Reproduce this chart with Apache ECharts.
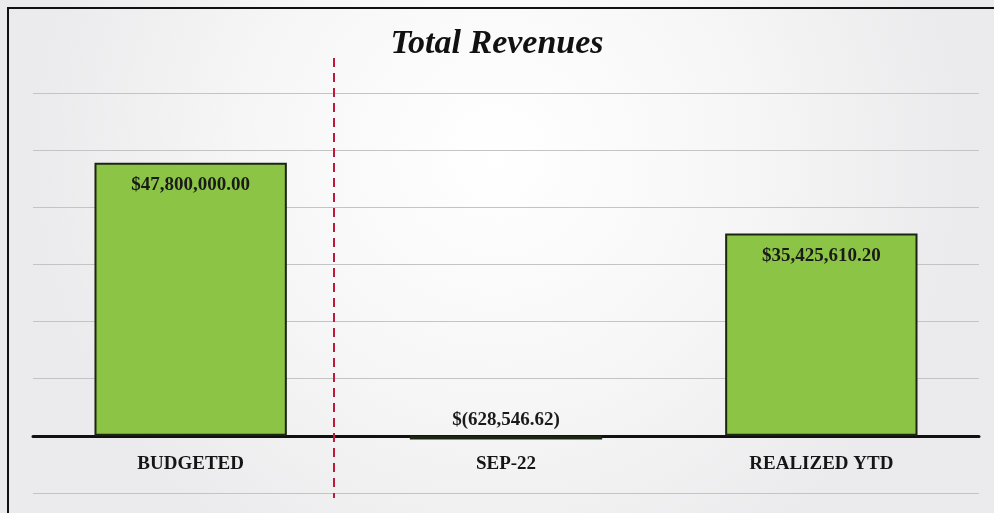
<!DOCTYPE html>
<html>
<head>
<meta charset="utf-8">
<script src="https://cdn.jsdelivr.net/npm/echarts@6/dist/echarts.min.js"></script>
<style>
  html, body { margin: 0; padding: 0; }
  #chart { width: 994px; height: 513px; }
</style>
</head>
<body>
<div id="chart"></div>
<script>
// total revenues chart

const categories = ['BUDGETED', 'SEP-22', 'REALIZED YTD'];
const revenues = [47800000.00, -628546.62, 35425610.20];

const money = v => {
	const s = Math.abs(v).toLocaleString('en-US', { minimumFractionDigits: 2, maximumFractionDigits: 2 });
	return v < 0 ? '$(' + s + ')' : '$' + s;
};

const chart = echarts.init(document.getElementById('chart'));

const serif = '"Liberation Serif", "DejaVu Serif", serif';

const option = {
	backgroundColor: {
		type: 'radial', x: 0.5, y: 0.3, r: 0.9,
		colorStops: [
			{ offset: 0, color: '#ffffff' },
			{ offset: 0.5, color: '#f7f7f7' },
			{ offset: 1, color: '#ebebed' }
		]
	},
	title: {
		text: 'Total Revenues',
		left: 'center',
		top: 22,
		textStyle: {
			fontFamily: serif,
			fontStyle: 'italic',
			fontWeight: 'bold',
			fontSize: 34,
			color: '#111'
		}
	},
	grid: { left: 33, right: 15, top: 93, bottom: 20, outerBoundsMode: 'none', containLabel: false },
	xAxis: {
		type: 'category',
		data: categories,
		axisTick: { show: false },
		axisLine: { onZero: true, lineStyle: { color: '#111', width: 3 } },
		axisLabel: {
			// labels sit just under the zero line, not at the grid bottom
			margin: -38,
			fontFamily: serif,
			fontWeight: 'bold',
			fontSize: 19,
			color: '#151515'
		}
	},
	yAxis: {
		type: 'value',
		min: -10000000,
		max: 60000000,
		interval: 10000000,
		axisLabel: { show: false },
		axisLine: { show: false },
		axisTick: { show: false },
		splitLine: { lineStyle: { color: '#c4c4c4', width: 1 } }
	},
	series: [
		{
			name: 'Total Revenues',
			type: 'bar',
			barWidth: '61%',
			data: revenues.map(v => ({
				value: v,
				label: v < 0 ? { position: 'top', distance: 6 } : { position: 'insideTop', distance: 13 }
			})),
			itemStyle: {
				color: '#8cc445',
				borderColor: '#1c2412',
				borderWidth: 2
			},
			label: {
				show: true,
				formatter: p => money(p.value),
				fontFamily: serif,
				fontWeight: 'bold',
				fontSize: 19,
				color: '#1a1a1a'
			}
		}
	],
	graphic: [
		{
			type: 'line',
			shape: { x1: 334, y1: 58, x2: 334, y2: 498 },
			style: { stroke: '#c0183c', lineWidth: 2, lineDash: [9, 6] },
			z: 10
		},
		{
			type: 'polyline',
			shape: { points: [[8, 513], [8, 8], [994, 8]] },
			style: { stroke: '#111', lineWidth: 2, fill: null },
			z: 10
		}
	]
};

chart.setOption(option);
</script>
</body>
</html>
